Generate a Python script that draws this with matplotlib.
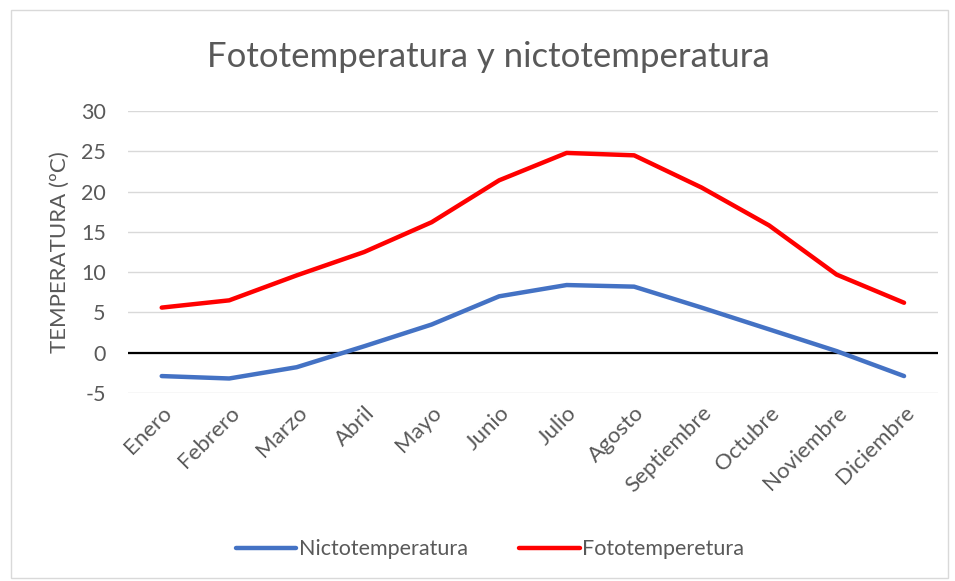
import matplotlib
matplotlib.use("Agg")
import matplotlib.pyplot as plt
from matplotlib.patches import Rectangle

meses = ["Enero", "Febrero", "Marzo", "Abril", "Mayo", "Junio", "Julio",
         "Agosto", "Septiembre", "Octubre", "Noviembre", "Diciembre"]
nicto = [-2.9, -3.2, -1.8, 0.8, 3.5, 7.0, 8.4, 8.2, 5.6, 2.9, 0.2, -2.9]
foto = [5.6, 6.5, 9.6, 12.5, 16.2, 21.4, 24.8, 24.5, 20.5, 15.8, 9.7, 6.2]
yticks = [-5, 0, 5, 10, 15, 20, 25, 30]

gris = "#595959"
plt.rcParams["font.family"] = ["Lato", "DejaVu Sans"]
plt.rcParams["axes.unicode_minus"] = False

fig = plt.figure(figsize=(9.55, 5.81), dpi=100)
fig.patches.append(Rectangle((0.011, 0.005), 0.982, 0.978, transform=fig.transFigure,
                             fill=False, edgecolor="#d9d9d9", linewidth=1))
ax = fig.add_axes([0.134, 0.3236, 0.848, 0.4853])

x = range(len(meses))
ax.plot(x, nicto, color="#4472c4", linewidth=3.2, solid_capstyle="round",
        label="Nictotemperatura", zorder=3)
ax.plot(x, foto, color="#ff0000", linewidth=3.2, solid_capstyle="round",
        label="Fototemperetura", zorder=3)

ax.set_xlim(-0.5, len(meses) - 0.5)
ax.set_ylim(-5, 30)
ax.set_yticks(yticks)
ax.grid(axis="y", color="#d9d9d9", linewidth=1)
ax.axhline(0, color="black", linewidth=1.6, zorder=2)
for s in ax.spines.values():
    s.set_visible(False)
ax.tick_params(length=0, colors=gris, labelsize=15.5)
ax.tick_params(axis="y", pad=16)
ax.set_xticks(list(x))
ax.set_xticklabels(meses, rotation=45, ha="right", rotation_mode="anchor")
ax.tick_params(axis="x", labelsize=16, pad=7)
ax.set_ylabel("TEMPERATURA (ºC)", color=gris, fontsize=16, labelpad=8)

fig.text(0.511, 0.902, "Fototemperatura y nictotemperatura", ha="center",
         va="center", fontsize=25, color=gris)
ax.legend(loc="center", bbox_to_anchor=(0.513, 0.055), bbox_transform=fig.transFigure,
          ncol=2, frameon=False, fontsize=15.5, labelcolor=gris, handlelength=2.8,
          columnspacing=2.4, handletextpad=0.1)

fig.savefig("out.png", dpi=100)
